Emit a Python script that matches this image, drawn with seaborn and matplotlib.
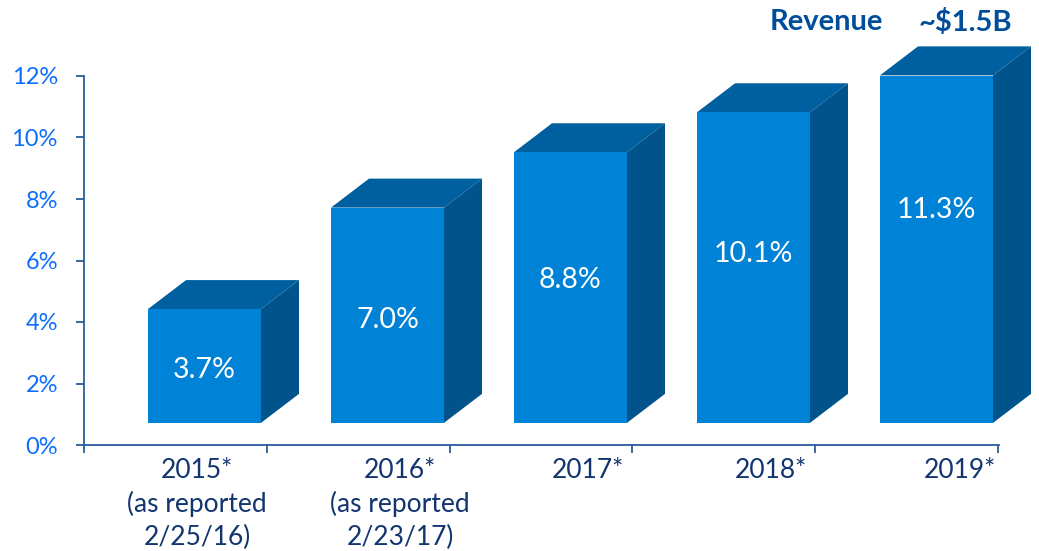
import numpy as np
import pandas as pd
from matplotlib import pyplot as plt
from matplotlib.patches import Polygon
import seaborn as sns

categories = ['2015*\n(as reported\n2/25/16)', '2016*\n(as reported\n2/23/17)', '2017*', '2018*', '2019*']
margin_pct = [3.7, 7.0, 8.8, 10.1, 11.3]
y_ticks = [0, 2, 4, 6, 8, 10, 12]

W, H = 1039, 551
FRONT = '#0082D6'
TOP = '#00609F'
SIDE = '#00548B'
TEXT_DARK = '#12356F'
TICK_BLUE = '#0D6EFD'
AXIS = '#2A5C9A'
HEAD = '#004E9A'

sns.set_theme(style='white')
plt.rcParams['font.family'] = ['Lato', 'DejaVu Sans']

fig = plt.figure(figsize=(W / 100, H / 100), dpi=100)
# axes box in pixels: x 84..999, 0% at y=445, 12% at y=76
ax = fig.add_axes([84 / W, 1 - 445 / H, (999 - 84) / W, (445 - 76) / H])

df = pd.DataFrame({'year': categories, 'margin': margin_pct})
base = 0.72  # the 3D floor sits above the axis line
sns.barplot(data=df, x='year', y='margin', bottom=base, color=FRONT, saturation=1,
            width=113 / 183, linewidth=0, ax=ax, zorder=3)
# bars sit right of the category centres, like the original
ax.set_xlim((84 - 204.5) / 183, (999 - 204.5) / 183)
ax.set_ylim(0, 12)

px_x = lambda p: (p - 204.5) / 183
px_y = lambda p: (445 - p) / (369 / 12)

# depth of the 3D box, in data units
dx = 38 / 183
dy = 29 / (369 / 12)

value_y = [370, 320, 280, 254, 210]   # pixel rows of the value labels
label_x = [197, 400, 588, 771, 960]   # pixel columns of the year labels

for bar, val, vy in zip(ax.patches, margin_pct, value_y):
    x0 = bar.get_x()
    x1 = x0 + bar.get_width()
    y0 = bar.get_y()
    y1 = y0 + bar.get_height()
    ax.add_patch(Polygon([(x0, y1), (x1, y1), (x1 + dx, y1 + dy), (x0 + dx, y1 + dy)],
                         facecolor=TOP, edgecolor='none', zorder=2, clip_on=False))
    ax.add_patch(Polygon([(x1, y0), (x1 + dx, y0 + dy), (x1 + dx, y1 + dy), (x1, y1)],
                         facecolor=SIDE, edgecolor='none', zorder=2, clip_on=False))
    ax.text((x0 + x1) / 2, px_y(vy), f'{val:.1f}%', color='white', fontsize=20.5,
            ha='center', va='center', zorder=4)

for s in ['top', 'right']:
    ax.spines[s].set_visible(False)
for s in ['left', 'bottom']:
    ax.spines[s].set_color(AXIS)
    ax.spines[s].set_linewidth(1.3)

ax.set_xlabel('')
ax.set_ylabel('')
ax.set_yticks(y_ticks)
ax.set_yticklabels([f'{t}%' for t in y_ticks], color=TICK_BLUE, fontsize=17)
ax.set_xticks(px_x(84 + 182.8 * np.arange(6)))
ax.set_xticklabels([])
ax.tick_params(axis='both', which='major', direction='out', length=5.8, width=1.3, color=AXIS,
               left=True, bottom=True)
ax.tick_params(axis='y', pad=13)

for label, lx in zip(categories, label_x):
    ax.text(px_x(lx), px_y(458), label, color=TEXT_DARK, fontsize=19, ha='center', va='top',
            linespacing=1.39)

fig.text(826 / W, 1 - 22 / H, 'Revenue', color=HEAD, fontsize=21, fontweight='bold', ha='center', va='center')
fig.text(965 / W, 1 - 22 / H, '~$1.5B', color=HEAD, fontsize=21, fontweight='bold', ha='center', va='center')

fig.savefig('out.png', dpi=100)
